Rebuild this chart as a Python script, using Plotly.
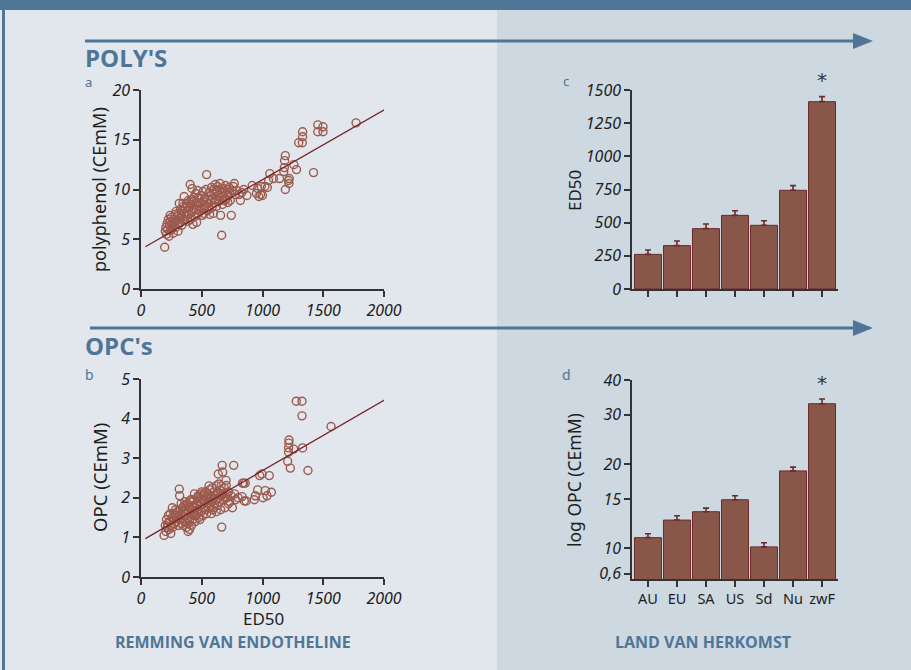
import plotly.graph_objects as go

W, H = 911, 670

# ---------------- data ----------------
# Panel a: ED50 vs polyphenol (CEmM)
a_ed50 = [195,200,205,210,215,220,225,230,235,240,245,250,255,260,265,270,275,280,285,290,
          295,300,305,310,315,318,320,325,330,335,340,345,350,355,358,360,365,370,375,380,
          385,390,395,400,405,408,410,415,420,425,428,430,435,440,445,450,455,458,460,465,
          470,475,480,485,490,495,500,505,510,515,520,525,530,535,540,545,550,555,560,565,
          570,575,580,585,590,595,600,605,610,615,620,625,630,635,640,645,650,655,660,664,
          670,675,680,685,690,695,700,705,710,715,720,725,730,735,743,750,760,768,775,790,
          810,818,830,845,872,915,950,960,970,985,990,1000,1020,1040,1050,1060,1090,1140,1175,1180,
          1182,1188,1188,1215,1218,1220,1258,1280,1298,1328,1330,1330,1420,1455,1455,1498,1498,1770,
          240,300,345,380,420,470,520,560,600,650]
a_poly = [4.2,5.8,6.2,5.5,6.6,6.0,7.0,5.3,6.4,6.8,5.9,7.2,6.1,6.5,5.6,7.0,6.8,7.5,6.2,7.8,
          6.9,7.3,5.8,7.6,8.6,6.6,7.1,8.0,7.4,6.4,7.9,7.0,8.3,9.3,7.6,6.9,8.1,7.3,8.6,7.8,
          6.8,8.9,7.5,8.2,10.5,7.0,8.5,7.7,10.1,8.8,6.5,7.9,9.2,8.4,7.3,9.6,8.0,6.7,8.7,9.9,
          7.6,8.3,9.1,7.8,8.6,9.4,8.1,7.4,9.8,8.8,7.6,9.2,8.4,10.0,11.5,7.9,9.0,8.6,9.7,7.5,
          8.9,9.4,10.2,8.2,9.1,7.6,9.6,8.7,10.5,9.0,8.3,9.9,10.3,9.4,8.8,10.0,9.2,7.4,9.7,5.4,
          8.5,10.1,9.3,8.9,9.8,10.4,9.0,9.6,10.0,8.7,9.4,10.2,9.7,8.9,7.4,9.9,10.3,10.6,9.5,9.9,
          9.5,8.9,9.7,10.0,9.4,10.4,9.6,10.1,9.3,9.5,10.3,9.4,10.3,10.2,10.9,11.6,11.1,11.1,11.8,12.2,
          12.9,13.4,10.0,10.9,10.6,11.1,12.5,12.0,14.7,14.7,15.3,15.8,11.7,15.8,16.5,16.3,15.8,16.7,
          7.4,6.5,8.6,8.3,9.0,9.2,8.2,8.0,10.0,10.6]
a_fit_x = [36, 2024]
a_fit_y = [4.25, 18.16]

# Panel b: ED50 vs OPC (CEmM)
b_ed50 = [190,200,205,210,215,220,225,230,235,240,245,250,255,258,260,265,270,275,280,285,
          290,295,300,305,310,315,318,320,325,330,335,340,345,350,355,360,365,370,375,380,
          385,388,390,395,400,405,410,415,420,425,430,435,440,445,450,455,460,465,470,475,
          480,485,490,495,500,505,510,515,520,525,530,535,540,545,550,555,560,565,570,575,
          580,585,590,595,600,605,610,615,620,625,630,636,640,645,650,655,660,664,668,672,
          675,680,685,690,700,702,705,710,720,730,740,752,763,770,780,800,831,835,845,850,
          858,865,932,941,960,977,996,1004,1023,1037,1056,1073,1207,1215,1215,1217,1218,1229,1256,1278,
          1325,1325,1330,1374,1564,
          330,345,360,380,400,410,425,440,455,470,485,500,520,540,560,580,600,620,640,660,690,720]
b_opc = [1.05,1.3,1.15,1.45,1.25,1.35,1.55,1.2,1.4,1.6,1.1,1.3,1.5,1.75,1.25,1.45,1.6,1.35,1.55,1.7,
         1.4,1.5,1.65,1.3,1.55,2.22,2.05,1.45,1.7,1.6,1.35,1.75,1.5,1.65,1.8,1.4,1.6,1.7,1.25,1.85,
         1.5,1.15,1.65,1.75,1.45,1.9,1.6,1.3,1.7,1.8,1.55,1.95,1.65,1.4,1.75,1.85,1.6,2.0,1.7,1.5,
         1.9,1.8,2.1,1.65,1.85,1.95,1.55,2.05,1.75,1.9,2.15,1.7,2.0,1.85,2.1,1.75,1.95,2.2,1.8,2.05,
         1.9,2.25,1.7,2.0,2.15,1.85,2.05,1.95,2.3,1.8,2.1,2.6,2.0,1.9,2.2,1.7,2.05,1.26,2.82,2.65,
         2.1,1.95,2.25,2.0,2.44,2.31,2.1,2.0,2.15,1.9,2.05,1.75,2.82,2.1,1.95,2.0,2.03,2.37,2.37,1.92,
         2.37,1.92,1.95,2.05,2.2,2.56,2.6,2.0,2.18,2.05,2.56,2.14,2.92,3.15,3.26,3.38,3.46,2.75,3.23,4.44,
         4.44,4.07,3.26,2.69,3.80,
         1.85,1.3,1.9,1.35,1.2,1.95,1.45,2.1,1.55,2.05,1.45,2.15,2.1,1.6,2.3,1.6,1.75,1.65,2.35,2.3,1.75,1.85]
b_fit_x = [36, 2030]
b_fit_y = [0.97, 4.52]

# Panels c & d: land van herkomst
countries = ["AU", "EU", "SA", "US", "Sd", "Nu", "zwF"]
c_ed50 = [261, 327, 455, 555, 480, 744, 1412]
c_err = [33, 35, 35, 35, 35, 35, 38]
d_logopc = [10.9, 12.6, 13.5, 14.9, 10.1, 18.9, 32.9]
d_err = [0.35, 0.45, 0.4, 0.5, 0.35, 0.6, 1.3]

sc_xticks = [0, 500, 1000, 1500, 2000]
a_yticks = [0, 5, 10, 15, 20]
b_yticks = [0, 1, 2, 3, 4, 5]
c_yticks = [0, 250, 500, 750, 1000, 1250, 1500]
d_tickvals = [8.1, 10, 15, 20, 30, 40]
d_ticktext = ["0,6", "10", "15", "20", "30", "40"]

# ---------------- styling ----------------
BLUE = "#4f7697"
LEFT_BG = "#e2e7ee"
RIGHT_BG = "#cdd8e1"
MARK = "#9c5a4c"
LINE = "#7a2228"
BAR_FILL = "#88574a"
BAR_EDGE = "#6b2a2d"
AX = "#333333"
TXT = "#1e1e1e"
TICKFONT = dict(family="Noto Sans", size=16, color=TXT)


def px(x):
    return x / W


def py(y):
    return 1 - y / H


def ital(vals):
    return ["<i>%s</i>" % v for v in vals]


fig = go.Figure()

mk = dict(symbol="circle-open", size=8, color=MARK, line=dict(width=1.4, color=MARK))
fig.add_trace(go.Scatter(x=a_ed50, y=a_poly, mode="markers", xaxis="x", yaxis="y",
                         marker=mk, showlegend=False))
fig.add_trace(go.Scatter(x=a_fit_x, y=a_fit_y, mode="lines", xaxis="x", yaxis="y",
                         line=dict(color=LINE, width=1.3), showlegend=False))
fig.add_trace(go.Scatter(x=b_ed50, y=b_opc, mode="markers", xaxis="x2", yaxis="y2",
                         marker=mk, showlegend=False))
fig.add_trace(go.Scatter(x=b_fit_x, y=b_fit_y, mode="lines", xaxis="x2", yaxis="y2",
                         line=dict(color=LINE, width=1.3), showlegend=False))

errstyle = dict(type="data", symmetric=False, color=BAR_EDGE, thickness=1.6, width=3)
fig.add_trace(go.Bar(x=countries, y=c_ed50, xaxis="x3", yaxis="y3",
                     marker=dict(color=BAR_FILL, line=dict(color=BAR_EDGE, width=1)),
                     error_y=dict(array=c_err, arrayminus=[0] * len(c_err), **errstyle),
                     showlegend=False))
fig.add_trace(go.Bar(x=countries, y=d_logopc, xaxis="x4", yaxis="y4",
                     marker=dict(color=BAR_FILL, line=dict(color=BAR_EDGE, width=1)),
                     error_y=dict(array=d_err, arrayminus=[0] * len(d_err), **errstyle),
                     showlegend=False))

axbase = dict(showgrid=False, zeroline=False, showline=True, linecolor=AX, linewidth=1.5,
              ticks="outside", ticklen=6, tickwidth=1.5, tickcolor=AX, tickfont=TICKFONT,
              automargin=False)

xd_sc = [px(141), px(384)]
xd_bar = [px(632), px(838)]

fig.update_layout(
    width=W, height=H, margin=dict(l=0, r=0, t=0, b=0, pad=0), autosize=False,
    paper_bgcolor=LEFT_BG, plot_bgcolor="rgba(0,0,0,0)",
    bargap=0.07,
    xaxis=dict(domain=xd_sc, range=[0, 2000], tickvals=sc_xticks, ticktext=ital(sc_xticks), anchor="y", **axbase),
    yaxis=dict(domain=[py(289), py(90)], range=[0, 20], tickvals=a_yticks, ticktext=ital(a_yticks), anchor="x", **axbase),
    xaxis2=dict(domain=xd_sc, range=[0, 2000], tickvals=sc_xticks, ticktext=ital(sc_xticks), anchor="y2", **axbase),
    yaxis2=dict(domain=[py(577), py(379)], range=[0, 5], tickvals=b_yticks, ticktext=ital(b_yticks), anchor="x2", **axbase),
    xaxis3=dict(domain=xd_bar, range=[-0.55, 6.55], showticklabels=False, anchor="y3", **axbase),
    yaxis3=dict(domain=[py(289), py(90)], range=[0, 1500], tickvals=c_yticks, ticktext=ital(c_yticks), anchor="x3", **axbase),
    xaxis4=dict(domain=xd_bar, range=[-0.55, 6.55], anchor="y4",
                **{**axbase, "tickfont": dict(family="Noto Sans", size=14.5, color=TXT)}),
    yaxis4=dict(domain=[py(579), py(380)], type="log", range=[0.8893, 1.6021],
                tickvals=d_tickvals, ticktext=ital(d_ticktext), anchor="x4", **axbase),
)

shapes = []
shapes.append(dict(type="rect", xref="paper", yref="paper", x0=px(497), x1=1, y0=0, y1=1,
                   fillcolor=RIGHT_BG, line=dict(width=0), layer="below"))
shapes.append(dict(type="rect", xref="paper", yref="paper", x0=0, x1=1, y0=py(10), y1=1,
                   fillcolor=BLUE, line=dict(width=0), layer="below"))
shapes.append(dict(type="rect", xref="paper", yref="paper", x0=px(2), x1=px(5), y0=0, y1=1,
                   fillcolor=BLUE, line=dict(width=0), layer="below"))
for (xs, xe, yy) in [(85, 856, 41), (90, 856, 328)]:
    shapes.append(dict(type="line", xref="paper", yref="paper", x0=px(xs), x1=px(xe), y0=py(yy), y1=py(yy),
                       line=dict(color=BLUE, width=3)))
    shapes.append(dict(type="path", xref="paper", yref="paper",
                       path=f"M {px(853)},{py(yy-8)} L {px(873)},{py(yy)} L {px(853)},{py(yy+8)} Z",
                       fillcolor=BLUE, line=dict(width=0)))
fig.update_layout(shapes=shapes)

ann = []


def text(x, y, s, size, color, xanchor="center", angle=0, weight="normal", family="Noto Sans"):
    ann.append(dict(x=px(x), y=py(y), xref="paper", yref="paper", text=s, showarrow=False,
                    xanchor=xanchor, yanchor="middle", textangle=angle,
                    font=dict(family=family, size=size, color=color, weight=weight)))


text(83, 57, "POLY'S", 24, BLUE, xanchor="left", weight="bold", family="Open Sans")
text(83, 345, "OPC's", 24, BLUE, xanchor="left", weight="bold", family="Open Sans")
text(88, 82, "a", 13, BLUE)
text(89, 374, "b", 14, BLUE)
text(566, 81, "c", 13, BLUE)
text(566, 374, "d", 14, BLUE)
text(99, 190, "polyphenol (CEmM)", 18, TXT, angle=-90)
text(99, 478, "OPC (CEmM)", 18.5, TXT, angle=-90)
text(263, 618, "ED50", 17, TXT)
text(574, 191, "ED50", 17, TXT, angle=-90)
text(574, 480, "log OPC (CEmM)", 17.5, TXT, angle=-90)
text(822, 80, "*", 20, "#333333", family="DejaVu Sans")
text(822, 383, "*", 20, "#333333", family="DejaVu Sans")
text(233, 642, "REMMING VAN ENDOTHELINE", 16, BLUE, weight="bold", family="Open Sans")
text(703, 642, "LAND VAN HERKOMST", 16, BLUE, weight="bold", family="Open Sans")
fig.update_layout(annotations=ann)

fig.write_html("out.html", config={"displayModeBar": False},
               post_script="document.body.style.margin='0';document.body.style.overflow='hidden';")
